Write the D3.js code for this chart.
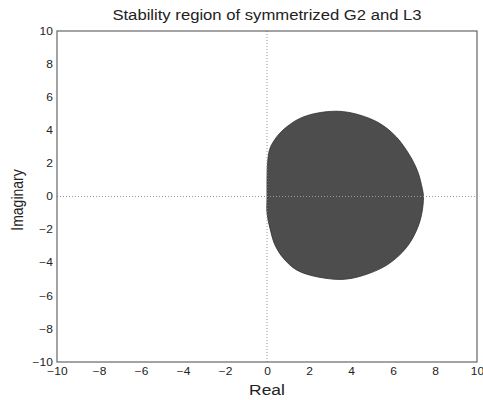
<!DOCTYPE html>
<html lang="en">
<head>
<meta charset="utf-8" />
<title>Stability region</title>
<script src="https://d3js.org/d3.v7.min.js"></script>
<style>
  body { margin: 0; background: #fff; }
  svg { font-family: "Liberation Sans", Arial, sans-serif; }
  .tick text { font-size: 10px; fill: #222; }
</style>
</head>
<body>
<svg id="chart" width="483" height="400"></svg>
<script>
// axis ticks
const xTicks = [-10, -8, -6, -4, -2, 0, 2, 4, 6, 8, 10];
const yTicks = [-10, -8, -6, -4, -2, 0, 2, 4, 6, 8, 10];

// boundary of the stability region (real, imaginary)
const boundaryRe = [0, 0, 0.03, 0.14, 0.46, 0.93, 1.57, 2.35, 3.4, 4.4, 5.36, 6.15, 6.79, 7.18, 7.39, 7.45,
                    7.36, 7.1, 6.63, 5.83, 4.88, 3.7, 2.37, 1.41, 0.78, 0.38, 0.14, 0];
const boundaryIm = [0, 1.0, 2.1, 2.9, 3.6, 4.2, 4.72, 5.03, 5.15, 4.93, 4.42, 3.61, 2.5, 1.5, 0.5, 0,
                    -1.1, -2.1, -3.1, -4.04, -4.64, -5.0, -4.85, -4.44, -3.73, -2.93, -1.92, -1.0];

const margin = { left: 57, right: 6, top: 31, bottom: 38 };
const width = 483, height = 400;
const svg = d3.select("#chart");

const x = d3.scaleLinear().domain([-10, 10]).range([margin.left, width - margin.right]);
const y = d3.scaleLinear().domain([-10, 10]).range([height - margin.bottom, margin.top]);

// region
const pts = boundaryRe.map((r, i) => [r, boundaryIm[i]]);
const line = d3.line()
    .x(d => x(d[0]))
    .y(d => y(d[1]))
    .curve(d3.curveCatmullRomClosed.alpha(0.5));

svg.append("path")
    .attr("d", line(pts))
    .attr("fill", "#4d4d4d")
    .attr("stroke", "#2e2e2e")
    .attr("stroke-width", 0.8);

// dotted zero lines
svg.append("line")
    .attr("x1", x(-10)).attr("x2", x(10))
    .attr("y1", y(0)).attr("y2", y(0))
    .attr("stroke", "#999").attr("stroke-dasharray", "1,2");
svg.append("line")
    .attr("x1", x(0)).attr("x2", x(0))
    .attr("y1", y(-10)).attr("y2", y(10))
    .attr("stroke", "#999").attr("stroke-dasharray", "1,2");

const fmt = d => d < 0 ? "\u2212" + Math.abs(d) : String(d);

// axes (the reference is stretched sideways, so text is widened a little)
const xAxis = svg.append("g")
    .attr("transform", `translate(0,${y(-10)})`)
    .call(d3.axisBottom(x).tickValues(xTicks).tickSize(0).tickPadding(6).tickFormat(fmt));
xAxis.select(".domain").remove();
xAxis.selectAll(".tick text").attr("transform", "scale(1.2,1)");

const yAxis = svg.append("g")
    .attr("transform", `translate(${x(-10)},0)`)
    .call(d3.axisLeft(y).tickValues(yTicks).tickSize(0).tickPadding(4).tickFormat(fmt));
yAxis.select(".domain").remove();
yAxis.selectAll(".tick text").attr("x", -3.5).attr("transform", "scale(1.2,1)");

// box
svg.append("rect")
    .attr("x", x(-10)).attr("y", y(10))
    .attr("width", x(10) - x(-10)).attr("height", y(-10) - y(10))
    .attr("fill", "none").attr("stroke", "#666").attr("stroke-width", 1.2);

// labels
const cx = (x(-10) + x(10)) / 2;
svg.append("text")
    .attr("transform", `translate(${cx},20) scale(1.15,1)`)
    .attr("text-anchor", "middle").attr("font-size", 14.5).attr("fill", "#222")
    .text("Stability region of symmetrized G2 and L3");

svg.append("text")
    .attr("transform", `translate(${cx},395) scale(1.2,1)`)
    .attr("text-anchor", "middle").attr("font-size", 14.5).attr("fill", "#222")
    .text("Real");

svg.append("text")
    .attr("transform", `translate(23,200) rotate(-90) scale(1,1.2)`)
    .attr("text-anchor", "middle").attr("font-size", 14).attr("fill", "#222")
    .text("Imaginary");
</script>
</body>
</html>
